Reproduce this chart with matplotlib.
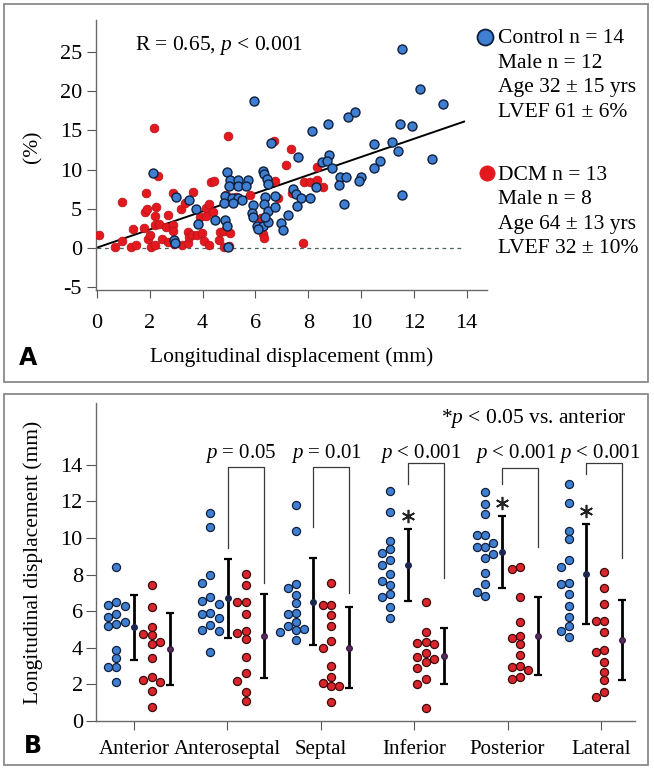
import numpy as np
import matplotlib
matplotlib.use('Agg')
import matplotlib.pyplot as plt
from matplotlib.patches import Rectangle
from matplotlib.lines import Line2D

plt.rcParams['font.family'] = ['Liberation Serif', 'DejaVu Serif']
plt.rcParams['mathtext.fontset'] = 'custom'
plt.rcParams['mathtext.rm'] = 'Liberation Serif'
plt.rcParams['mathtext.it'] = 'Liberation Serif:italic'
plt.rcParams['axes.unicode_minus'] = False

# ---------------- data: panel A ----------------
ctrl_x = [2.11, 2.98, 3.50, 3.75, 3.84, 2.92, 2.97, 4.47,
          4.94, 5.04, 5.33, 5.00, 5.33, 5.73, 5.63,
          4.85, 5.10, 5.33, 5.48, 4.82, 5.16, 4.85, 4.91, 4.97,
          5.96, 6.30, 6.34, 6.43, 6.49, 6.59,
          5.92, 5.88, 5.92, 6.05, 6.30, 6.11, 6.49,
          6.36, 6.34, 6.46, 6.38, 6.74, 6.74, 6.97, 7.06, 7.25,
          7.44, 7.52, 7.73, 8.07, 7.56, 7.60,
          8.16, 8.76, 8.79, 8.51, 8.70, 8.89, 8.30,
          9.52, 9.77, 11.48, 11.92, 10.49, 11.19, 11.41, 10.72, 10.50, 12.70,
          9.20, 9.42, 9.17, 10.00, 9.92, 9.37, 11.54, 11.54, 12.23, 13.12]
ctrl_y = [9.60, 6.54, 6.11, 4.93, 3.01, 1.02, 0.60, 3.57,
          9.72, 8.66, 8.66, 7.90, 7.90, 8.66, 7.90,
          6.62, 6.33, 6.33, 6.11, 5.77, 5.69, 3.57, 2.80, 0.17,
          18.77, 9.85, 9.40, 8.75, 8.15, 13.33,
          5.48, 4.42, 3.90, 2.80, 2.80, 2.38, 3.35,
          6.45, 5.60, 4.75, 4.00, 6.62, 5.26, 3.14, 2.29, 4.20,
          7.47, 6.88, 6.33, 6.33, 5.35, 11.63,
          14.95, 15.80, 11.85, 11.00, 11.10, 10.15, 7.75,
          16.73, 17.28, 15.80, 15.58, 13.25, 13.55, 12.36, 11.08, 10.23, 11.34,
          9.08, 9.08, 8.03, 9.08, 8.58, 5.60, 6.75, 25.30, 20.20, 18.34]
dcm_x = [0.09, 0.68, 0.96, 0.96, 1.29, 1.38, 1.48, 1.78, 1.84, 1.82, 1.89, 1.94, 2.00,
         2.03, 2.16, 2.23, 2.20, 2.32, 2.20, 2.36, 2.20, 2.47, 2.60, 2.68, 2.68, 2.87,
         2.87, 2.87, 2.92, 3.21, 3.18, 3.33, 3.46, 3.43, 3.48, 3.65, 3.59, 3.77, 3.90,
         3.96, 4.05, 4.12, 4.12, 4.25, 4.25, 4.30, 4.44, 4.41, 4.60, 4.66, 4.81, 4.81,
         4.95, 4.89, 5.04, 5.00, 5.27, 5.80, 6.30, 6.34, 6.20, 6.72, 6.74, 6.87, 7.16,
         7.35, 7.37, 7.81, 7.85, 8.07, 8.32, 8.32, 8.55]
dcm_y = [1.61, 0.17, 5.82, 0.85, 0.09, 2.38, 0.38, 2.50, 6.96, 4.54, 4.93, 1.10, 1.66,
         0.17, 15.30, 5.18, 4.08, 9.21, 2.93, 3.06, 0.38, 1.15, 2.63, 4.20, 0.72, 7.05,
         2.93, 2.12, 0.47, 0.38, 4.93, 5.69, 2.08, 0.60, 1.36, 7.17, 1.66, 1.66, 3.99,
         1.87, 0.93, 5.05, 4.08, 5.60, 0.38, 8.45, 8.53, 4.62, 1.02, 2.08, 0.17, 2.12,
         14.27, 6.75, 1.95, 0.30, 6.54, 6.70, 1.74, 1.32, 3.78, 13.67, 8.58, 6.33, 10.57,
         12.57, 6.96, 0.60, 8.45, 8.45, 8.66, 10.36, 7.80]
fit_intercept, fit_slope, fit_x_max = 0.05, 1.155, 13.9
xticks_A = [0, 2, 4, 6, 8, 10, 12, 14]
yticks_A = [-5, 0, 5, 10, 15, 20, 25]
ctrl_info = ['Control n = 14', 'Male n = 12', 'Age 32 ± 15 yrs', 'LVEF 61 ± 6%']
dcm_info = ['DCM n = 13', 'Male n = 8', 'Age 64 ± 13 yrs', 'LVEF 32 ± 10%']

# ---------------- data: panel B ----------------
segments = ['Anterior', 'Anteroseptal', 'Septal', 'Inferior', 'Posterior', 'Lateral']
ctrl_seg = [
    [8.43, 6.52, 6.33, 6.28, 5.85, 5.70, 5.43, 5.30, 5.19, 3.88, 3.42, 2.97, 2.93, 2.11],
    [11.35, 10.62, 7.98, 7.56, 6.79, 6.56, 6.37, 5.88, 5.85, 5.61, 5.25, 4.97, 4.94, 3.79],
    [11.80, 10.40, 7.47, 7.25, 6.89, 6.43, 5.92, 5.85, 5.43, 5.20, 5.01, 4.97, 4.85, 4.43],
    [12.57, 11.40, 9.85, 9.40, 9.16, 8.80, 8.52, 8.03, 7.67, 7.43, 6.94, 6.76, 6.25, 5.61],
    [12.53, 11.86, 11.29, 10.16, 10.16, 9.74, 9.49, 9.49, 9.10, 8.89, 8.07, 7.47, 7.07, 6.83],
    [12.95, 11.89, 10.40, 9.93, 8.80, 8.40, 7.52, 7.48, 6.94, 6.28, 5.70, 5.19, 4.94, 4.61],
]
dcm_seg = [
    [7.43, 6.25, 5.15, 4.75, 4.70, 4.33, 4.21, 3.42, 2.39, 2.24, 2.11, 1.64, 0.78],
    [8.03, 7.43, 6.48, 6.48, 5.85, 4.94, 4.79, 4.46, 3.52, 2.60, 2.19, 1.60, 1.09],
    [7.52, 6.34, 6.34, 5.79, 5.19, 4.37, 4.01, 3.01, 2.39, 2.06, 1.91, 1.89, 1.02],
    [6.48, 4.88, 4.33, 4.25, 4.21, 3.73, 3.48, 3.37, 3.24, 2.91, 2.30, 2.02, 0.73],
    [8.43, 8.29, 6.79, 5.43, 4.66, 4.52, 4.19, 3.61, 3.01, 2.93, 2.79, 2.42, 2.28],
    [8.16, 7.25, 6.39, 5.48, 5.48, 4.85, 3.88, 3.79, 3.24, 2.70, 2.24, 1.60, 1.33],
]
ctrl_mean = [5.12, 6.70, 6.52, 8.52, 9.22, 8.03]
ctrl_sd = [1.78, 2.14, 2.37, 1.96, 1.97, 2.74]
dcm_mean = [3.93, 4.64, 4.01, 3.55, 4.64, 4.43]
dcm_sd = [1.96, 2.31, 2.22, 1.55, 2.15, 2.17]
star_segments = [3, 4, 5]
bracket_segments = [1, 2, 3, 4, 5]
bracket_labels = ['$p$ = 0.05', '$p$ = 0.01', '$p$ < 0.001', '$p$ < 0.001', '$p$ < 0.001']
bracket_left_low = [9.45, 10.6, 12.95, 12.95, 13.5]
bracket_right_low = [7.55, 6.98, 7.8, 9.52, 8.89]
bracket_top = [13.9, 13.9, 14.1, 13.8, 14.1]
yticks_B = [0, 2, 4, 6, 8, 10, 12, 14]

# ---------------- layout ----------------
W, H = 654, 777
fig = plt.figure(figsize=(W / 100, H / 100), dpi=100)


def fx(px):
    return px / W


def fy(py):
    return 1 - py / H


BLUE, BLUE_EDGE = '#3f7fd2', '#0f1f3c'
RED = '#e3191f'
RED_B, RED_B_EDGE = '#d9252b', '#3c0c0c'
TXT = 15.5

# frames
for top, bot in [(4, 382), (394, 765)]:
    fig.add_artist(Rectangle((fx(4), fy(bot)), (648 - 4) / W, (bot - top) / H,
                             transform=fig.transFigure, fill=False,
                             ec='#8a8a8a', lw=1.3))

# ---------------- panel A ----------------
axA = fig.add_axes([fx(96), fy(290), (487 - 96) / W, (290 - 20) / H])
axA.set_xlim(-0.04, 14.77)
axA.set_ylim(-5.35, 29.05)
axA.plot([0, fit_x_max], [0, 0], ls=(0, (3, 3)), color='#4f5f60', lw=0.9, zorder=1)
xs = np.array([0.0, fit_x_max])
axA.plot(xs, fit_intercept + fit_slope * xs, color='black', lw=1.4, zorder=2)
axA.scatter(dcm_x, dcm_y, s=40, c=RED, edgecolors='#b3141a', linewidths=0.5, zorder=3)
axA.scatter(ctrl_x, ctrl_y, s=42, c=BLUE, edgecolors=BLUE_EDGE, linewidths=1.0, zorder=4)
axA.set_xticks(xticks_A)
axA.set_yticks(yticks_A)
for s in ['top', 'right']:
    axA.spines[s].set_visible(False)
for s in ['left', 'bottom']:
    axA.spines[s].set_color('#6a6a6a')
    axA.spines[s].set_linewidth(1.0)
axA.tick_params(axis='x', direction='out', length=6, width=0.8, color='#555555',
                labelsize=16, pad=11)
axA.tick_params(axis='y', direction='out', length=6.5, width=0.8, color='#555555',
                labelsize=16, pad=3.5)
axA.set_xlabel('Longitudinal displacement (mm)', fontsize=TXT)
axA.xaxis.label.set_va('baseline')
axA.xaxis.set_label_coords(0.5, (290 - 362) / 270)
axA.set_ylabel('(%)', fontsize=TXT, va='center')
axA.yaxis.set_label_coords((33 - 96) / 391, (290 - 147) / 270)
axA.text(1.44, (248 - 50) / 7.85, 'R = 0.65, $p$ < 0.001', fontsize=TXT, va='baseline', ha='left')

# legend block
fig.add_artist(Line2D([fx(485)], [fy(37)], marker='o', ms=11.5, mfc=BLUE, mec=BLUE_EDGE,
                      mew=1.3, transform=fig.transFigure))
fig.add_artist(Line2D([fx(487)], [fy(173)], marker='o', ms=11, mfc=RED, mec=RED,
                      mew=0.5, transform=fig.transFigure))
for i, t in enumerate(ctrl_info):
    fig.text(fx(498), fy(43 + 24.7 * i), t, fontsize=TXT, va='baseline', ha='left')
for i, t in enumerate(dcm_info):
    fig.text(fx(498), fy(180 + 24.4 * i), t, fontsize=TXT, va='baseline', ha='left')

fig.text(fx(28), fy(358), 'A', fontsize=17, fontweight='bold',
         family=['DejaVu Sans'], ha='center', va='center')
fig.text(fx(33), fy(746), 'B', fontsize=17, fontweight='bold',
         family=['DejaVu Sans'], ha='center', va='center')

# ---------------- panel B ----------------
axB = fig.add_axes([fx(96), fy(721), (635 - 96) / W, (721 - 403) / H])
PPU_X = 93.4
PPU_Y = 18.3
axB.set_xlim(-38 / PPU_X, 5 + 34 / PPU_X)
axB.set_ylim(0, 318 / PPU_Y)

# group centre shift (px) and element offsets (px) within each group
group_shift = np.array([8.75, 9.35, 1.7, 2.55, 3.9, -5.75]) / PPU_X
OFF_CD, OFF_CM, OFF_DD, OFF_DM = -26.4 / PPU_X, -9.1 / PPU_X, 8.75 / PPU_X, 26.8 / PPU_X
STEP = 8.2  # px between swarm columns


def swarm_cols(vals):
    vals = np.asarray(vals)
    order = np.argsort(-vals, kind='stable')
    placed = []
    cols = np.zeros(len(vals))
    for i in order:
        y = vals[i] * PPU_Y
        for c in [0, -1, 1, -2, 2, -3, 3]:
            if all(not (pc == c and abs(py - y) < STEP) for pc, py in placed):
                break
        placed.append((c, y))
        cols[i] = c
    return cols * STEP / PPU_X


seg_pos = np.arange(len(segments))
grp = seg_pos + group_shift
for k in range(len(segments)):
    cx = grp[k] + OFF_CD + swarm_cols(ctrl_seg[k])
    axB.scatter(cx, ctrl_seg[k], s=34, c=BLUE, edgecolors=BLUE_EDGE, linewidths=0.9, zorder=3)
    dx = grp[k] + OFF_DD + swarm_cols(dcm_seg[k])
    axB.scatter(dx, dcm_seg[k], s=34, c=RED_B, edgecolors=RED_B_EDGE, linewidths=0.9, zorder=3)

cm_x = grp + OFF_CM
dm_x = grp + OFF_DM
axB.errorbar(cm_x, ctrl_mean, yerr=ctrl_sd, fmt='none', ecolor='black', elinewidth=2.0,
             capsize=2.6, capthick=1.6, zorder=4)
axB.errorbar(dm_x, dcm_mean, yerr=dcm_sd, fmt='none', ecolor='black', elinewidth=2.0,
             capsize=2.6, capthick=1.6, zorder=4)
axB.plot(cm_x, ctrl_mean, 'o', ms=4, mfc='#1b2750', mec='#1b2750', zorder=5, ls='none')
axB.plot(dm_x, dcm_mean, 'o', ms=4, mfc='#5a2d62', mec='#3a1a40', zorder=5, ls='none')

for j, k in enumerate(bracket_segments):
    xl, xr = cm_x[k], dm_x[k]
    axB.plot([xl, xl, xr, xr], [bracket_left_low[j], bracket_top[j], bracket_top[j],
                                bracket_right_low[j]], color='#3a3a3a', lw=0.9, zorder=2)
    axB.text((xl + xr) / 2 - 0.05, (721 - 458) / PPU_Y, bracket_labels[j], fontsize=15,
             ha='center', va='baseline')

for k in star_segments:
    axB.plot([cm_x[k]], [ctrl_mean[k] + ctrl_sd[k] + 0.72], marker=(6, 2, 0), ms=9.5,
             mew=1.2, color='#222222', ls='none')

axB.text(5 + (627 - 601) / PPU_X, (721 - 423) / PPU_Y, '*$p$ < 0.05 vs. anterior',
         fontsize=TXT, ha='right', va='baseline')

axB.set_xticks(seg_pos)
axB.set_xticklabels(segments)
axB.set_yticks(yticks_B)
for s in ['top', 'right']:
    axB.spines[s].set_visible(False)
for s in ['left', 'bottom']:
    axB.spines[s].set_color('#6a6a6a')
    axB.spines[s].set_linewidth(1.0)
axB.tick_params(axis='x', direction='out', length=6.5, width=0.8, color='#555555',
                labelsize=15, pad=7.5)
axB.tick_params(axis='y', direction='out', length=7, width=0.8, color='#555555',
                labelsize=16, pad=2.5)
axB.set_ylabel('Longitudinal displacement (mm)', fontsize=TXT, va='center')
axB.yaxis.set_label_coords((33 - 96) / 539, 0.5)

fig.savefig('out.png', dpi=100)
